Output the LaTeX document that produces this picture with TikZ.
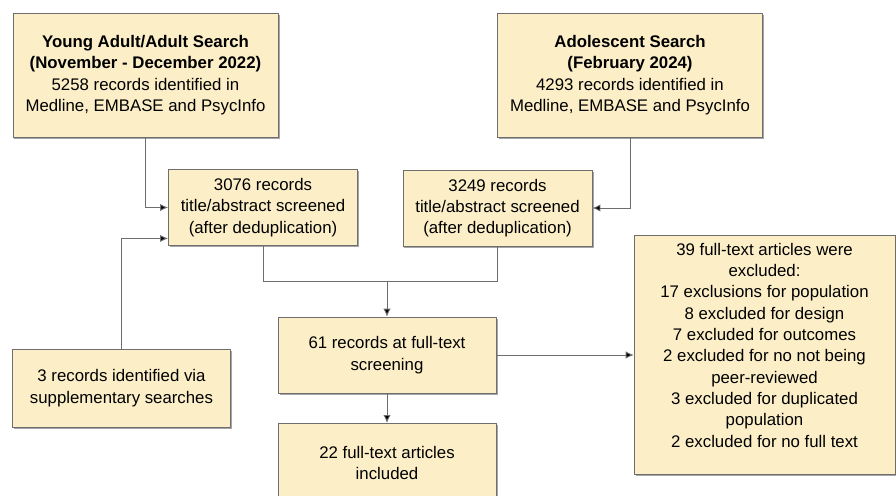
\documentclass[tikz,border=0pt]{standalone}
\usepackage{fontspec}
\setmainfont{Liberation Sans}
\usepackage{xcolor}
\usepackage{tikz}
\usetikzlibrary{arrows.meta,positioning,shadows}
\definecolor{prismafill}{HTML}{FCEFC8}
\definecolor{prismaline}{HTML}{6E6E6E}

\begin{document}
\begin{tikzpicture}[
  x=0.75pt, y=-0.75pt,
  box/.style={draw=prismaline, fill=prismafill, align=center, inner sep=2pt,
              font=\fontsize{12.6}{16}\selectfont,
              drop shadow={shadow xshift=1.2pt, shadow yshift=-1.2pt,
                           fill=black, opacity=0.35}},
  search/.style={box, minimum width=199pt, minimum height=93pt},
  screen/.style={box, minimum width=142pt, minimum height=57pt},
  stage/.style={box, minimum width=163.5pt, minimum height=57pt},
  link/.style={draw=prismaline, line width=0.7pt},
  arrow/.style={link, -{Latex[length=6pt, width=5.5pt, fill=black]}}
]
  \useasboundingbox (0,0) rectangle (896,496);

  \node[search] (adult) at (145.5,75) {\textbf{Young Adult/Adult Search}\\
    \textbf{(November - December 2022)}\\5258 records identified in\\
    Medline, EMBASE and PsycInfo};
  \node[search] (adol) at (630,75) {\textbf{Adolescent Search}\\
    \textbf{(February 2024)}\\4293 records identified in\\
    Medline, EMBASE and PsycInfo};
  \node[screen] (screenA) at (263,207.5) {3076 records\\title/abstract screened\\(after deduplication)};
  \node[screen] (screenB) at (497.5,208) {3249 records\\title/abstract screened\\(after deduplication)};
  \node[stage] (fulltext) at (387,355) {61 records at full-text\\screening};
  \node[stage, minimum height=60pt, anchor=north] (included) at (387,423)
    {22 full-text articles\\included};
  \node[stage, minimum height=58.5pt] (extra) at (121.5,388)
    {3 records identified via\\supplementary searches};
  \node[box, minimum width=195.75pt, minimum height=179.25pt] (excluded) at (764.5,354.5)
    {39 full-text articles were\\excluded:\\17 exclusions for population\\
     8 excluded for design\\7 excluded for outcomes\\2 excluded for no not being\\
     peer-reviewed\\3 excluded for duplicated\\population\\2 excluded for no full text\\[-2pt]};
  \coordinate[above=26.25pt of fulltext.north] (join);

  \draw[arrow] (adult.south) |- (screenA.west);
  \draw[arrow] (adol.south) |- (screenB.east);
  \draw[arrow] (extra.north) |- ([yshift=5.5pt]screenA.south west);
  \draw[link] (screenA.south) |- (join) -| (screenB.south);
  \draw[arrow] (join) -- (fulltext.north);
  \draw[arrow] (fulltext.east) -- (fulltext.east -| excluded.west);
  \draw[arrow] (fulltext.south) -- (included.north);
\end{tikzpicture}
\end{document}
